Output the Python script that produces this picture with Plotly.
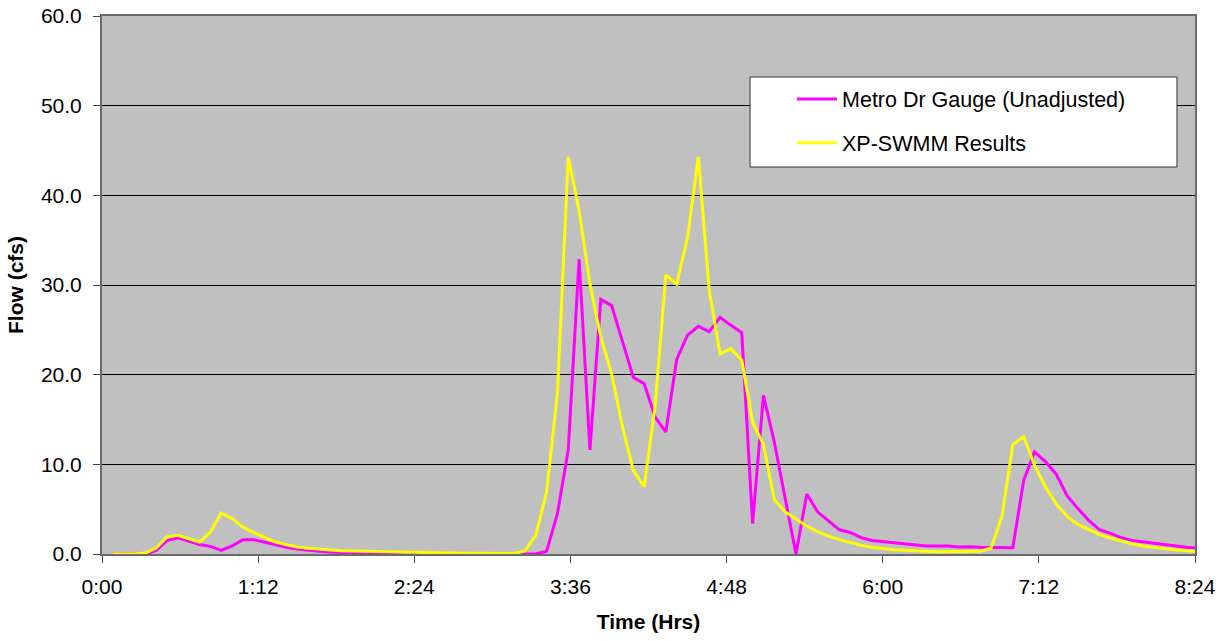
import plotly.graph_objects as go

# Time in minutes from start (5-minute steps)
time_min = [5 * k for k in range(1, 102)]  # 5 .. 505

metro_gauge = [
    0.0, 0.0, 0.0, 0.0, 0.4, 1.5, 1.8, 1.45, 1.05, 0.85,      # 5-50
    0.4, 0.9, 1.6, 1.6, 1.3, 0.97, 0.75, 0.56, 0.41, 0.3,     # 55-100
    0.22, 0.15, 0.11, 0.07, 0.05, 0.03, 0.02, 0.01, 0.0, 0.0, # 105-150
    0.0, 0.0, 0.0, 0.0, 0.0, 0.0, 0.0, 0.0, 0.0, 0.0,         # 155-200
    0.3, 4.5, 11.6, 32.9, 11.6, 28.4, 27.7, 23.8, 19.7, 19.0, # 205-250
    15.3, 13.6, 21.7, 24.4, 25.4, 24.8, 26.4, 25.5, 24.7, 3.4,# 255-300
    17.7, 12.5, 6.4, 0.0, 6.7, 4.7, 3.7, 2.7, 2.4, 1.83,      # 305-350
    1.5, 1.38, 1.27, 1.08, 0.97, 0.9, 0.9, 0.9, 0.78, 0.82,   # 355-400
    0.74, 0.7, 0.7, 0.7, 8.2, 11.4, 10.3, 8.9, 6.5, 5.06,     # 405-450
    3.75, 2.7, 2.3, 1.83, 1.5, 1.34, 1.15, 1.0, 0.86, 0.74,   # 455-500
    0.65,                                                     # 505
]

xp_swmm = [
    0.0, 0.0, 0.0, 0.1, 0.67, 1.9, 2.08, 1.7, 1.33, 2.44,     # 5-50
    4.57, 3.95, 3.0, 2.38, 1.82, 1.33, 1.04, 0.78, 0.63, 0.52,# 55-100
    0.45, 0.37, 0.33, 0.3, 0.27, 0.23, 0.2, 0.17, 0.15, 0.13, # 105-150
    0.12, 0.1, 0.09, 0.08, 0.07, 0.06, 0.05, 0.05, 0.33, 2.08,# 155-200
    6.9, 17.9, 44.3, 38.3, 30.1, 24.2, 20.1, 14.2, 9.3, 7.5,  # 205-250
    16.4, 31.1, 30.1, 35.3, 44.3, 29.4, 22.3, 22.9, 21.6, 14.7,# 255-300
    12.2, 6.06, 4.7, 3.9, 3.1, 2.5, 2.0, 1.6, 1.27, 0.97,     # 305-350
    0.74, 0.6, 0.48, 0.41, 0.33, 0.3, 0.26, 0.26, 0.26, 0.26, # 355-400
    0.3, 0.67, 4.2, 12.2, 13.1, 9.9, 7.5, 5.6, 4.2, 3.3,      # 405-450
    2.7, 2.15, 1.78, 1.45, 1.15, 0.9, 0.71, 0.6, 0.48, 0.37,  # 455-500
    0.3,                                                      # 505
]

x_tick_vals = [0, 72, 144, 216, 288, 360, 432, 504]
x_tick_text = ["0:00", "1:12", "2:24", "3:36", "4:48", "6:00", "7:12", "8:24"]
y_tick_vals = [0, 10, 20, 30, 40, 50, 60]
y_tick_text = ["0.0", "10.0", "20.0", "30.0", "40.0", "50.0", "60.0"]

font_family = "Liberation Sans, Arial, sans-serif"

fig = go.Figure()
fig.add_trace(go.Scatter(
    x=time_min, y=metro_gauge, mode="lines",
    name="Metro Dr Gauge (Unadjusted)", legendgroup="a",
    line=dict(color="#FF00FF", width=3),
))
fig.add_trace(go.Scatter(
    x=time_min, y=xp_swmm, mode="lines",
    name="XP-SWMM Results", legendgroup="b",
    line=dict(color="#FFFF00", width=3),
))

# legend box
fig.add_shape(type="rect", xref="paper", yref="paper",
              x0=0.5929, x1=0.9835, y0=0.7193, y1=0.8866,
              line=dict(color="#333333", width=1), fillcolor="white", layer="above")

fig.update_layout(
    width=1226, height=641,
    margin=dict(l=102, r=31, t=16, b=87, autoexpand=False),
    paper_bgcolor="white",
    plot_bgcolor="#C0C0C0",
    font=dict(family=font_family, size=21, color="black"),
    showlegend=True,
    legend=dict(
        x=0.6313, y=0.884, xanchor="left", yanchor="top",
        bgcolor="rgba(0,0,0,0)", borderwidth=0,
        font=dict(size=21.5, family=font_family),
        tracegroupgap=13, itemwidth=40,
    ),
    xaxis=dict(
        range=[0, 504], automargin=False,
        tickvals=x_tick_vals, ticktext=x_tick_text,
        ticks="outside", ticklen=7, tickcolor="#444444", tickwidth=1,
        ticklabelstandoff=6, ticklabeloverflow="allow",
        showgrid=False, zeroline=False,
        showline=True, linecolor="#6a6a6a", linewidth=2, mirror=True,
        title=dict(text="<b>Time (Hrs)</b>", font=dict(size=21), standoff=17),
        tickfont=dict(size=21),
    ),
    yaxis=dict(
        range=[0, 60], automargin=False,
        tickvals=y_tick_vals, ticktext=y_tick_text,
        ticks="outside", ticklen=7, tickcolor="#444444", tickwidth=1,
        ticklabelstandoff=7, ticklabeloverflow="allow",
        showgrid=True, gridcolor="black", gridwidth=1,
        zeroline=False,
        showline=True, linecolor="#6a6a6a", linewidth=2, mirror=True,
        title=dict(text="<b>Flow (cfs)</b>", font=dict(size=21), standoff=12),
        tickfont=dict(size=21),
    ),
)

fig.write_html("out.html", config={"displayModeBar": False},
               post_script="document.body.style.margin='0';")
